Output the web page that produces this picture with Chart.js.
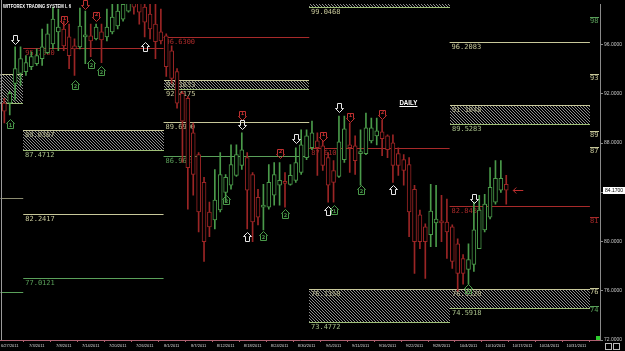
<!DOCTYPE html>
<html>
<head>
<meta charset="utf-8">
<script src="https://cdn.jsdelivr.net/npm/chart.js@4.4.0/dist/chart.umd.min.js"></script>
<style>
html, body { margin: 0; padding: 0; background: #000; overflow: hidden; }
canvas { display: block; }
</style>
</head>
<body>
<canvas id="chart" width="625" height="351"></canvas>
<script>
// daily candles, one per bar index
const opens  = [91.24,91.24,92.85,93.65,93.81,94.21,94.46,94.86,95.34,96.06,97.03,97.27,96.63,95.90,95.82,96.63,96.71,96.47,97.03,96.63,
  97.03,97.51,98.07,98.72,99.52,99.44,99.04,98.48,97.67,97.03,96.71,95.50,93.81,92.04,91.64,88.83,87.06,84.81,82.40,81.75,
  82.56,84.00,84.57,85.37,86.18,86.82,85.45,83.60,82.80,82.80,83.76,84.57,84.81,84.65,84.97,85.61,86.82,87.62,88.18,87.78,
  86.82,85.77,85.29,86.66,87.86,87.78,87.14,87.14,88.18,88.59,88.91,88.59,88.02,87.14,86.66,86.26,84.25,82.16,81.19,80.55,
  81.51,81.67,81.59,81.19,79.82,78.62,77.73,78.14,79.42,80.95,81.99,83.20,84.17,84.65];
const highs  = [91.64,92.20,95.82,95.82,95.10,95.42,95.66,97.27,97.67,99.04,98.88,97.91,97.67,96.47,98.96,98.72,97.67,97.67,97.67,98.88,
  99.40,99.52,99.68,99.92,99.92,99.76,99.60,99.44,99.28,98.88,96.87,95.90,94.05,92.20,91.80,89.63,87.22,85.21,83.20,85.85,
  87.22,85.45,87.86,87.86,88.83,87.22,85.61,84.25,84.65,86.26,86.42,86.42,85.61,86.26,87.62,89.07,89.07,89.79,88.83,88.18,
  87.22,86.58,90.19,90.19,89.63,88.59,89.07,90.44,90.03,90.03,89.87,88.67,88.67,87.62,87.06,86.82,84.57,82.56,81.43,84.65,
  84.57,83.76,83.44,81.35,80.23,78.94,79.82,83.20,83.76,83.84,86.01,86.58,86.58,85.37];
const lows   = [89.63,90.28,91.48,92.69,93.49,93.97,94.30,94.30,95.26,95.66,95.50,95.50,94.05,93.49,95.66,94.46,95.02,96.39,94.54,96.31,
  96.87,97.27,97.91,98.64,98.48,97.67,96.63,96.47,94.86,96.06,93.41,92.85,90.84,86.42,82.64,83.76,80.79,78.38,80.39,81.03,
  82.40,83.20,84.25,85.29,85.85,81.03,79.98,81.35,80.95,82.64,82.96,82.96,82.80,84.57,84.81,85.45,86.66,87.46,85.37,85.77,
  83.20,83.20,85.21,86.42,85.61,85.45,84.57,87.06,88.02,87.86,86.98,86.82,84.81,85.37,84.57,80.39,77.41,79.42,77.01,79.58,
  79.58,79.98,78.62,77.81,75.96,76.53,76.53,77.57,79.42,80.79,81.83,83.04,84.00,83.04];
const closes = [90.60,92.04,94.05,94.86,94.54,95.02,95.10,95.82,96.87,98.07,97.43,95.90,95.10,95.66,97.51,96.71,96.31,97.43,96.39,97.43,
  98.23,98.72,99.28,99.52,99.04,98.64,97.83,97.27,96.23,96.31,94.21,93.25,91.24,89.79,86.01,85.45,82.40,79.98,81.19,83.36,
  85.45,85.21,86.26,87.06,87.46,84.17,81.59,81.99,82.88,84.81,85.45,84.97,84.73,85.37,86.42,87.86,88.59,88.83,87.62,86.18,
  84.57,84.81,88.10,89.15,87.62,86.58,87.22,89.23,89.23,88.99,88.35,87.46,86.18,86.18,85.77,82.40,79.98,79.98,79.98,82.48,
  81.83,81.51,80.79,78.38,77.41,77.41,78.54,80.95,82.56,83.04,84.41,85.13,85.13,84.17];

// x axis: date labels every fifth bar
const tickBars   = [1,6,11,16,21,26,31,36,41,46,51,56,61,66,71,76,81,86,91,96,101,106];
const tickLabels = ['6/27/2011','7/3/2011','7/8/2011','7/14/2011','7/20/2011','7/26/2011','8/1/2011','8/7/2011','8/12/2011',
  '8/18/2011','8/24/2011','8/30/2011','9/5/2011','9/11/2011','9/16/2011','9/22/2011','9/28/2011','10/4/2011','10/10/2011',
  '10/17/2011','10/24/2011','10/31/2011'];
const priceTicks = [96, 92, 88, 84, 80, 76, 72];

// monthly pivot periods (bar index bounds)
const periodStart = [-1, 3.5, 29.5, 56.5, 82.5];
const periodEnd   = [3.5, 29.5, 56.5, 82.5, 108.5];

// single levels
const levelPeriod = [0, 0, 1, 1, 1, 2, 2, 2, 3, 4, 4];
const levelValue  = [83.52, 75.88, 95.76, 82.2417, 77.0121, 96.64, 89.69, 86.9625, 87.6103, 96.2083, 82.8482];
const levelKind   = ['gray','green','red','yellow','green','red','yellow','green','red','yellow','red'];
const levelText   = ['','','95.7600','82.2417','77.0121','96.6300','89.6900','86.9625','87.6103','96.2083','82.8482'];

// hatched zones
const zonePeriod     = [0, 1, 2, 3, 3, 4, 4];
const zoneTop        = [93.65, 89.0367, 93.1633, 99.6, 76.1350, 91.1048, 76.1320];
const zoneBottom     = [91.24, 87.4712, 92.4175, 99.0468, 73.4772, 89.5283, 74.5918];
const zoneTopText    = ['', '89.0367', '93.1633', '', '76.1350', '91.1048', '76.1320'];
const zoneBottomText = ['', '87.4712', '92.4175', '99.0468', '73.4772', '89.5283', '74.5918'];

// signal arrows
const arrowBar   = [2, 1, 11, 17, 15, 26, 16, 18, 13, 44, 44, 54, 51, 59, 41, 52, 48, 45, 60, 61, 62, 64, 70, 66, 72, 87, 86];
const arrowPrice = [96.41, 89.66, 97.93, 98.26, 99.25, 95.85, 94.48, 93.92, 92.80, 90.23, 89.50, 88.30, 87.09, 88.46, 83.48,
  82.28, 80.51, 80.43, 82.60, 82.68, 90.87, 90.07, 90.31, 84.28, 84.28, 83.48, 76.25];
const arrowType  = ['wd','gu','rd','rd','rd','wu','gu','gu','gu','rd','wd','wd','rd','rd','gu','gu','gu','wu','wu','gu','wd','rd','rd','gu','wu','wd','gu'];
const arrowNum   = ['','1','1','2','','','2','2','2','1','','','2','1','2','2','2','','','1','','1','2','2','','','1'];

// right edge tags
const tagValue = [97.93, 93.28, 88.62, 87.34, 81.63, 75.9, 74.4];
const tagText  = ['98', '93', '89', '87', '81', '76', '74'];
const tagKind  = ['green', 'yellow', 'yellow', 'yellow', 'red', 'yellow', 'green'];

const UP = '#4a9a4a', DOWN = '#9b2525';
const COL = { red: '#a82a2a', yellow: '#c8c89a', green: '#5aa05a', gray: '#8c8c70', white: '#e6e6e6' };

let hatchPattern = null;
function getHatch(ctx) {
    if (hatchPattern) return hatchPattern;
    const p = document.createElement('canvas');
    p.width = 3; p.height = 3;
    const g = p.getContext('2d');
    g.fillStyle = '#000'; g.fillRect(0, 0, 3, 3);
    g.fillStyle = '#8e8e8e';
    g.fillRect(0, 0, 1, 1); g.fillRect(1, 1, 1, 1); g.fillRect(2, 2, 1, 1);
    hatchPattern = ctx.createPattern(p, 'repeat');
    return hatchPattern;
}

function hline(ctx, x1, x2, y, color) {
    ctx.strokeStyle = color;
    ctx.lineWidth = 1;
    ctx.beginPath();
    ctx.moveTo(x1, Math.round(y) + 0.5);
    ctx.lineTo(x2, Math.round(y) + 0.5);
    ctx.stroke();
}

function drawArrow(ctx, x, y, type, num) {
    const color = type[0] === 'w' ? COL.white : (type[0] === 'g' ? UP : '#c03030');
    const down = type[1] === 'd';
    const w = num ? 3 : 2;
    const s = down ? 1 : -1;
    x = Math.round(x) + 0.5; y = Math.round(y) + 0.5;
    ctx.strokeStyle = color;
    ctx.lineWidth = 1;
    ctx.beginPath();
    ctx.moveTo(x - w, y - 5 * s);
    ctx.lineTo(x + w, y - 5 * s);
    ctx.lineTo(x + w, y);
    ctx.lineTo(x + 4, y);
    ctx.lineTo(x, y + 4 * s);
    ctx.lineTo(x - 4, y);
    ctx.lineTo(x - w, y);
    ctx.closePath();
    ctx.stroke();
    if (num) {
        ctx.fillStyle = color;
        ctx.font = 'bold 5px "DejaVu Sans"';
        ctx.textAlign = 'center';
        ctx.textBaseline = 'middle';
        ctx.fillText(num, x, y - 2.5 * s);
    }
}

const overlay = {
    id: 'overlay',
    beforeDraw(chart) {
        const ctx = chart.ctx;
        ctx.save();
        ctx.fillStyle = '#000';
        ctx.fillRect(0, 0, chart.width, chart.height);
        ctx.restore();
    },
    beforeDatasetsDraw(chart) {
        const ctx = chart.ctx, X = chart.scales.x, Y = chart.scales.y, a = chart.chartArea;
        ctx.save();
        ctx.beginPath();
        ctx.rect(a.left, a.top, a.right - a.left, a.bottom - a.top);
        ctx.clip();
        ctx.font = '7px "DejaVu Sans Mono"';
        ctx.textAlign = 'left';
        ctx.textBaseline = 'top';
        // zones
        zonePeriod.forEach((p, k) => {
            const x1 = Math.round(X.getPixelForValue(periodStart[p]));
            const x2 = Math.round(X.getPixelForValue(periodEnd[p]));
            const yt = Math.round(Y.getPixelForValue(zoneTop[k]));
            const yb = Math.round(Y.getPixelForValue(zoneBottom[k]));
            ctx.fillStyle = getHatch(ctx);
            ctx.fillRect(x1, yt, x2 - x1, yb - yt);
            hline(ctx, x1, x2, yt, COL.yellow);
            hline(ctx, x1, x2, yb, '#9fbf78');
            if (zoneTopText[k]) {
                ctx.fillStyle = '#b8b890';
                ctx.fillText(zoneTopText[k], x1 + 2, yt + 2);
            }
            if (zoneBottomText[k]) {
                ctx.fillStyle = k === 2 || k === 3 ? COL.yellow : '#a8c08a';
                ctx.fillText(zoneBottomText[k], x1 + 2, yb + 2);
            }
        });
        // levels
        levelPeriod.forEach((p, k) => {
            const x1 = X.getPixelForValue(periodStart[p]);
            const x2 = X.getPixelForValue(periodEnd[p]);
            const y = Y.getPixelForValue(levelValue[k]);
            hline(ctx, x1, x2, y, COL[levelKind[k]]);
            if (levelText[k]) {
                ctx.fillStyle = COL[levelKind[k]];
                ctx.fillText(levelText[k], x1 + 2, Math.round(y) + 2);
            }
        });
        ctx.restore();
    },
    afterDatasetsDraw(chart) {
        const ctx = chart.ctx, X = chart.scales.x, Y = chart.scales.y, a = chart.chartArea;
        ctx.save();
        // left border
        ctx.strokeStyle = '#9a9a9a';
        ctx.beginPath(); ctx.moveTo(1.5, 0); ctx.lineTo(1.5, a.bottom); ctx.stroke();
        // arrows
        arrowBar.forEach((b, k) => {
            drawArrow(ctx, X.getPixelForValue(b), Y.getPixelForValue(arrowPrice[k]), arrowType[k], arrowNum[k]);
        });
        // last bar marker
        const mx = X.getPixelForValue(opens.length + 0.3), my = Math.round(Y.getPixelForValue(closes[closes.length - 1])) + 0.5;
        ctx.strokeStyle = '#c03030';
        ctx.beginPath();
        ctx.moveTo(mx, my); ctx.lineTo(mx + 10, my);
        ctx.moveTo(mx + 3, my - 3); ctx.lineTo(mx, my); ctx.lineTo(mx + 3, my + 3);
        ctx.stroke();
        // right tags
        ctx.font = '7px "DejaVu Sans Mono"';
        ctx.textAlign = 'left';
        ctx.textBaseline = 'middle';
        tagValue.forEach((v, k) => {
            const y = Y.getPixelForValue(v);
            ctx.fillStyle = COL[tagKind[k]];
            ctx.fillText(tagText[k], a.right - 10, y);
            hline(ctx, a.right - 10, a.right - 1, y - 4, COL[tagKind[k]]);
        });
        // title and timeframe
        ctx.fillStyle = '#ffffff';
        ctx.font = 'bold 6px "Liberation Sans"';
        ctx.textBaseline = 'alphabetic';
        ctx.fillText('WITFOREX TRADING SYSTEM L 6', 3, 8, 68);
        ctx.font = 'bold 7px "Liberation Sans"';
        ctx.fillText('DAILY', X.getPixelForValue(73.2), Y.getPixelForValue(91.1), 18);
        ctx.fillRect(X.getPixelForValue(73.2), Math.round(Y.getPixelForValue(91.1)) + 1, 18, 1);
        // current price box
        const last = closes[closes.length - 1];
        const cy = Math.round(Y.getPixelForValue(last));
        ctx.fillStyle = '#ffffff';
        ctx.fillRect(a.right + 3, cy - 3, 22, 7);
        ctx.fillStyle = '#000';
        ctx.font = '5px "Liberation Sans"';
        ctx.textBaseline = 'middle';
        ctx.fillText(last.toFixed(4), a.right + 5, cy + 0.5);
        // bottom-right widgets
        ctx.fillStyle = '#2ecc2e';
        ctx.fillRect(a.right - 4, a.bottom - 4, 4, 4);
        ctx.strokeStyle = '#bbbbbb';
        ctx.strokeRect(a.right + 5.5, a.bottom + 3.5, 6, 6);
        ctx.strokeRect(a.right + 13.5, a.bottom + 3.5, 6, 6);
        ctx.restore();
    }
};

const ctx = document.getElementById('chart').getContext('2d');
new Chart(ctx, {
    type: 'bar',
    data: {
        datasets: [{
            label: 'body',
            data: opens.map((o, i) => ({ x: i, y: [o, closes[i]] })),
            backgroundColor: '#000',
            borderColor: c => closes[c.dataIndex] >= opens[c.dataIndex] ? UP : DOWN,
            borderWidth: 1,
            borderSkipped: false,
            barThickness: 4,
            minBarLength: 2,
            grouped: false,
            order: 1
        }, {
            label: 'wick',
            data: lows.map((l, i) => ({ x: i, y: [l, highs[i]] })),
            backgroundColor: c => closes[c.dataIndex] >= opens[c.dataIndex] ? UP : DOWN,
            borderWidth: 0,
            barThickness: 1,
            grouped: false,
            order: 2
        }]
    },
    options: {
        responsive: false,
        animation: false,
        devicePixelRatio: 1,
        layout: { padding: 0 },
        plugins: { legend: { display: false }, tooltip: { enabled: false } },
        scales: {
            x: {
                type: 'linear',
                offset: false,
                min: -0.74,
                max: 110.37,
                afterFit: s => { s.height = 11; },
                afterBuildTicks: s => { s.ticks = tickBars.map(v => ({ value: v })); },
                ticks: {
                    autoSkip: false,
                    maxRotation: 0,
                    padding: 1,
                    color: '#d8d8d8',
                    font: { size: 4, family: 'Liberation Sans' },
                    callback: v => tickLabels[tickBars.indexOf(v)]
                },
                grid: { drawOnChartArea: false, color: '#b06070', tickLength: 2 },
                border: { color: '#b06070', dash: [1, 1] }
            },
            y: {
                position: 'right',
                min: 72,
                max: 99.3,
                afterFit: s => { s.width = 25; },
                afterBuildTicks: s => { s.ticks = priceTicks.map(v => ({ value: v })); },
                ticks: {
                    padding: 1,
                    color: '#c8c8c8',
                    font: { size: 5, family: 'Liberation Sans' },
                    callback: v => v.toFixed(4)
                },
                grid: { drawOnChartArea: false, color: '#8a8a8a', tickLength: 3 },
                border: { color: '#8a8a8a' }
            }
        }
    },
    plugins: [overlay]
});
</script>
</body>
</html>
